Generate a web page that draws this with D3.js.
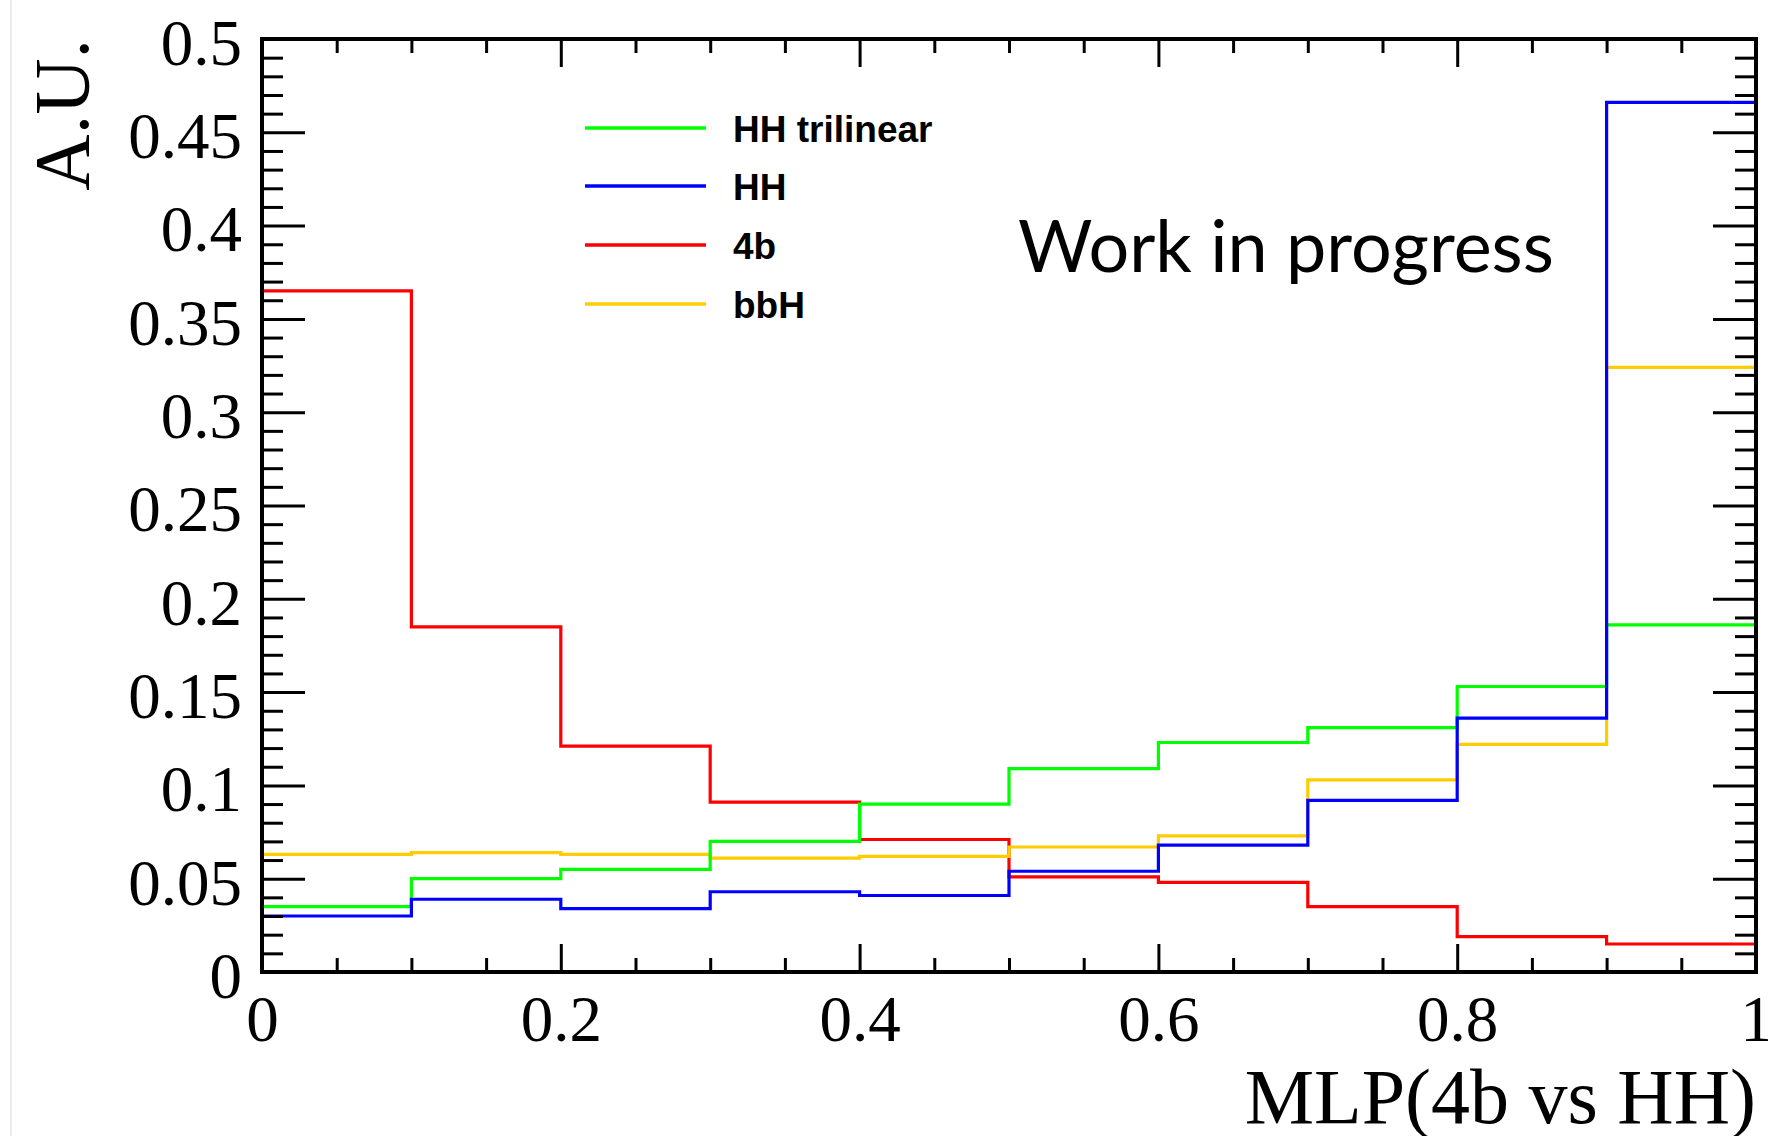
<!DOCTYPE html>
<html>
<head>
<meta charset="utf-8">
<script src="https://cdn.jsdelivr.net/npm/d3@7"></script>
<style>
  html, body { margin: 0; padding: 0; background: #ffffff; }
  svg { display: block; }
</style>
</head>
<body>
<script>
// Bin edges of the MLP output histogram
const binEdges = [0, 0.1, 0.2, 0.3, 0.4, 0.5, 0.6, 0.7, 0.8, 0.9, 1.0];

// Normalised bin contents (A.U.) per sample
const hhTrilinear = [0.035, 0.050, 0.055, 0.070, 0.090, 0.109, 0.123, 0.131, 0.153, 0.186];
const hh          = [0.030, 0.039, 0.034, 0.043, 0.041, 0.054, 0.068, 0.092, 0.136, 0.466];
const fourB       = [0.365, 0.185, 0.121, 0.091, 0.071, 0.051, 0.048, 0.035, 0.019, 0.015];
const bbH         = [0.063, 0.064, 0.063, 0.061, 0.062, 0.067, 0.073, 0.103, 0.122, 0.324];

// Legend entries (in legend order) and draw order
const seriesNames  = ["HH trilinear", "HH", "4b", "bbH"];
const seriesColors = ["#00ff00", "#0000ff", "#ff0000", "#ffcc00"];
const seriesValues = [hhTrilinear, hh, fourB, bbH];
const drawOrder    = [2, 3, 0, 1];

// Axis ticks and labels
const xMajor = [0, 0.2, 0.4, 0.6, 0.8, 1.0];
const xLabels = ["0", "0.2", "0.4", "0.6", "0.8", "1"];
const yMajor = [0, 0.05, 0.1, 0.15, 0.2, 0.25, 0.3, 0.35, 0.4, 0.45, 0.5];
const yLabels = ["0", "0.05", "0.1", "0.15", "0.2", "0.25", "0.3", "0.35", "0.4", "0.45", "0.5"];

const W = 1768, H = 1136;
const plotLeft = 262, plotRight = 1756, plotTop = 39, plotBottom = 972;

const x = d3.scaleLinear().domain([0, 1]).range([plotLeft, plotRight]);
const y = d3.scaleLinear().domain([0, 0.5]).range([plotBottom, plotTop]);

const xMinor = d3.range(0, 1.0001, 0.05).filter(v => !xMajor.some(m => Math.abs(m - v) < 1e-9));
const yMinor = d3.range(0, 0.5001, 0.01).filter(v => !yMajor.some(m => Math.abs(m - v) < 1e-9));

const svg = d3.select("body").append("svg")
  .attr("width", W).attr("height", H)
  .attr("viewBox", `0 0 ${W} ${H}`);

svg.append("rect").attr("width", W).attr("height", H).attr("fill", "#ffffff");

// thin page border on the far left
svg.append("line")
  .attr("x1", 11).attr("x2", 11).attr("y1", 0).attr("y2", H)
  .attr("stroke", "#ebebeb").attr("stroke-width", 2);

const serif = "'Liberation Serif', 'Times New Roman', serif";

function styleAxis(g, width) {
  g.select(".domain").remove();
  g.selectAll(".tick line").attr("stroke", "#000").attr("stroke-width", width);
  g.selectAll(".tick text")
    .attr("fill", "#000")
    .style("font-family", serif)
    .style("font-size", "65px");
}

// Histogram outlines
const line = d3.line()
  .x(d => x(d[0]))
  .y(d => y(d[1]))
  .curve(d3.curveStepAfter);

const histGroup = svg.append("g");
drawOrder.forEach(k => {
  const vals = seriesValues[k];
  const pts = [[binEdges[0], 0]];
  vals.forEach((v, i) => pts.push([binEdges[i], v]));
  pts.push([binEdges[binEdges.length - 1], vals[vals.length - 1]]);
  pts.push([binEdges[binEdges.length - 1], 0]);
  histGroup.append("path")
    .attr("d", line(pts))
    .attr("fill", "none")
    .attr("stroke", seriesColors[k])
    .attr("stroke-width", 3.2)
    .attr("stroke-linejoin", "miter");
});

// Axes: all ticks point into the frame
const gLeft = svg.append("g").attr("transform", `translate(${plotLeft},0)`)
  .call(d3.axisLeft(y).tickValues(yMajor).tickFormat((d, i) => yLabels[i]).tickSize(-43).tickPadding(20));
styleAxis(gLeft, 3);
gLeft.selectAll(".tick text").attr("dy", "0.39em");

const gLeftMinor = svg.append("g").attr("transform", `translate(${plotLeft},0)`)
  .call(d3.axisLeft(y).tickValues(yMinor).tickFormat("").tickSize(-21));
styleAxis(gLeftMinor, 3);

const gRight = svg.append("g").attr("transform", `translate(${plotRight},0)`)
  .call(d3.axisRight(y).tickValues(yMajor).tickFormat("").tickSize(-43));
styleAxis(gRight, 3);
const gRightMinor = svg.append("g").attr("transform", `translate(${plotRight},0)`)
  .call(d3.axisRight(y).tickValues(yMinor).tickFormat("").tickSize(-21));
styleAxis(gRightMinor, 3);

const gBottom = svg.append("g").attr("transform", `translate(0,${plotBottom})`)
  .call(d3.axisBottom(x).tickValues(xMajor).tickFormat((d, i) => xLabels[i]).tickSize(-28).tickPadding(23));
styleAxis(gBottom, 3);
const gBottomMinor = svg.append("g").attr("transform", `translate(0,${plotBottom})`)
  .call(d3.axisBottom(x).tickValues(xMinor).tickFormat("").tickSize(-14));
styleAxis(gBottomMinor, 3);

const gTop = svg.append("g").attr("transform", `translate(0,${plotTop})`)
  .call(d3.axisTop(x).tickValues(xMajor).tickFormat("").tickSize(-28));
styleAxis(gTop, 3);
const gTopMinor = svg.append("g").attr("transform", `translate(0,${plotTop})`)
  .call(d3.axisTop(x).tickValues(xMinor).tickFormat("").tickSize(-14));
styleAxis(gTopMinor, 3);

// Frame
svg.append("rect")
  .attr("x", plotLeft).attr("y", plotTop)
  .attr("width", plotRight - plotLeft).attr("height", plotBottom - plotTop)
  .attr("fill", "none").attr("stroke", "#000").attr("stroke-width", 4);

// Axis titles
svg.append("text")
  .attr("x", plotRight).attr("y", 1123)
  .attr("text-anchor", "end")
  .style("font-family", serif).style("font-size", "78px")
  .attr("fill", "#000")
  .text("MLP(4b vs HH)");

svg.append("text")
  .attr("transform", `translate(88,${plotTop}) rotate(-90)`)
  .attr("text-anchor", "end")
  .style("font-family", serif).style("font-size", "78px")
  .attr("fill", "#000")
  .text("A.U.");

// Legend
const legendRowY = [128, 186, 245, 304];
const legend = svg.append("g");
seriesNames.forEach((name, i) => {
  legend.append("line")
    .attr("x1", 585).attr("x2", 706)
    .attr("y1", legendRowY[i]).attr("y2", legendRowY[i])
    .attr("stroke", seriesColors[i]).attr("stroke-width", 3.5);
  legend.append("text")
    .attr("x", 733).attr("y", legendRowY[i] + 14)
    .style("font-family", "'Liberation Sans', Arial, sans-serif")
    .style("font-weight", "bold").style("font-size", "37px")
    .attr("fill", "#000")
    .text(name);
});

// Status label
const wip = svg.append("text")
  .attr("x", 1018).attr("y", 272)
  .style("font-family", "Lato, 'Open Sans', sans-serif")
  .style("font-size", "70px")
  .attr("fill", "#000")
  .text("Work in progress");
const wipLen = wip.node().getComputedTextLength();
if (wipLen > 0) wip.style("font-size", (70 * 536 / wipLen).toFixed(1) + "px");
</script>
</body>
</html>
